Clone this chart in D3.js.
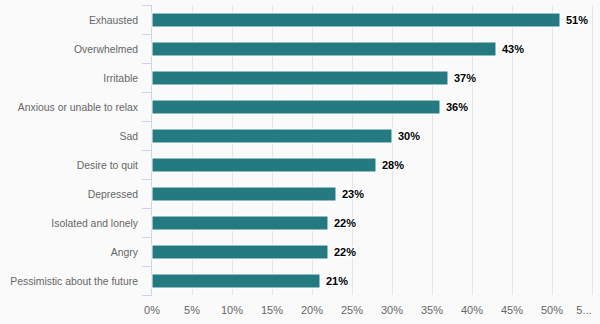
<!DOCTYPE html>
<html><head><meta charset="utf-8">
<script src="https://cdn.jsdelivr.net/npm/d3@7"></script>
<style>
html,body{margin:0;padding:0;background:#fafafa;}
svg{display:block;font-family:"Liberation Sans",Arial,Helvetica,sans-serif;}
</style></head>
<body><svg id="c" width="600" height="324"></svg>
<script>
const categories = ["Exhausted","Overwhelmed","Irritable","Anxious or unable to relax","Sad","Desire to quit","Depressed","Isolated and lonely","Angry","Pessimistic about the future"];
const values = [51,43,37,36,30,28,23,22,22,21];
const tickValues = [0,5,10,15,20,25,30,35,40,45,50,55];
const tickLabels = ["0%","5%","10%","15%","20%","25%","30%","35%","40%","45%","50%","5..."];

const svg = d3.select("#c");
svg.append("rect").attr("width",600).attr("height",324).attr("fill","#fafafa");

const x = d3.scaleLinear().domain([0,55]).range([152,592]);
const y = d3.scaleBand().domain(categories).range([5,295]).paddingInner(0).paddingOuter(0);

// grid
svg.append("g").selectAll("line").data(tickValues.slice(1)).join("line")
  .attr("x1",d=>Math.round(x(d))+0.5).attr("x2",d=>Math.round(x(d))+0.5)
  .attr("y1",5).attr("y2",295).attr("stroke","#e6e6e6").attr("stroke-width",1);

// x labels
svg.append("g").selectAll("text").data(tickValues).join("text")
  .attr("x",(d,i)=>i===tickValues.length-1 ? x(d)-8 : x(d)).attr("y",314)
  .attr("text-anchor","middle").attr("font-size",11).attr("fill","#666666")
  .text((d,i)=>tickLabels[i]);

// y axis line and ticks
svg.append("line").attr("x1",151.5).attr("x2",151.5).attr("y1",5).attr("y2",295)
  .attr("stroke","#ccd6eb").attr("stroke-width",1);
const bounds = categories.map(c=>y(c)).concat([y.range()[1]]);
svg.append("g").selectAll("line").data(bounds).join("line")
  .attr("x1",142).attr("x2",152).attr("y1",d=>Math.round(d)+0.5).attr("y2",d=>Math.round(d)+0.5)
  .attr("stroke","#ccd6eb").attr("stroke-width",1);

// category labels
svg.append("g").selectAll("text").data(categories).join("text")
  .attr("x",138).attr("y",d=>y(d)+y.bandwidth()/2+4)
  .attr("text-anchor","end").attr("font-size",10.4).attr("fill","#666666")
  .text(d=>d);

// bars
const bh = 14;
svg.append("g").selectAll("rect").data(values).join("rect")
  .attr("x",x(0)).attr("y",(d,i)=>y(categories[i])+y.bandwidth()/2-bh/2+0.5)
  .attr("width",d=>x(d)-x(0)).attr("height",bh)
  .attr("fill","#237a80").attr("stroke","#ffffff").attr("stroke-width",1);

// data labels
svg.append("g").selectAll("text").data(values).join("text")
  .attr("x",d=>x(d)+6).attr("y",(d,i)=>y(categories[i])+y.bandwidth()/2+4.5)
  .attr("font-size",11).attr("font-weight","bold").attr("fill","#000000")
  .attr("stroke","#ffffff").attr("stroke-width",2).attr("paint-order","stroke").attr("stroke-linejoin","round")
  .text(d=>d+"%");
</script></body></html>
